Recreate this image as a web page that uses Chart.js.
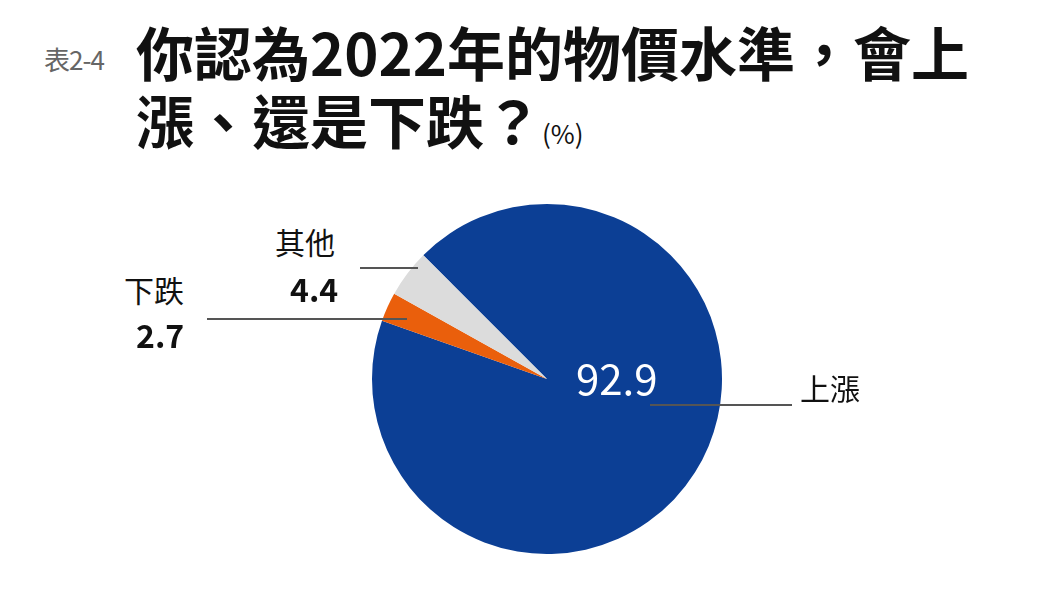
<!DOCTYPE html>
<html><head><meta charset="utf-8">
<script src="https://cdn.jsdelivr.net/npm/chart.js@4/dist/chart.umd.min.js"></script>
<style>
body{margin:0;width:1060px;height:596px;background:#fff;position:relative;overflow:hidden;font-family:"Noto Sans CJK TC","Noto Sans",sans-serif;}
.a{position:absolute;white-space:nowrap;line-height:1;}
.ln{position:absolute;height:1.5px;background:#555;}
#wrap{position:absolute;left:372px;top:204px;width:350px;height:350px;}
</style></head><body>
<div class="a" style="left:44px;top:46px;font-size:26px;color:#666;letter-spacing:-1px">表2-4</div>
<div class="a" style="left:136px;top:22px;font-size:58px;font-weight:bold;color:#111;letter-spacing:0px">你認為2022年的物價水準，會上</div>
<div class="a" style="left:136px;top:90px;font-size:58px;font-weight:bold;color:#111;letter-spacing:0px">漲、還是下跌？<span style="font-size:26px;font-weight:normal;">(%)</span></div>
<div id="wrap"><canvas id="c"></canvas></div>
<div id="labels"></div>
<script>
const categories=["上漲","下跌","其他"];
const values=[92.9,2.7,4.4];
const colors=["#0c3f95","#ea5f0c","#dcdcdc"];
new Chart(document.getElementById('c'),{type:'pie',
 data:{labels:categories,datasets:[{data:values,backgroundColor:colors,borderWidth:0}]},
 options:{responsive:true,maintainAspectRatio:false,animation:false,rotation:-45,
  layout:{padding:0},plugins:{legend:{display:false},tooltip:{enabled:false}}}});
const L=document.getElementById('labels');
function add(html){L.insertAdjacentHTML('beforeend',html);}
add(`<div class="a" style="left:576px;top:356px;font-size:42px;color:#fff">${values[0]}</div>`);
add(`<div class="ln" style="left:650px;top:404px;width:142px"></div>`);
add(`<div class="a" style="left:800px;top:372px;font-size:30px;color:#111">${categories[0]}</div>`);
add(`<div class="a" style="left:124px;top:274px;font-size:30px;color:#111">${categories[1]}</div>`);
add(`<div class="a" style="left:136px;top:318px;font-size:32px;font-weight:bold;color:#111">${values[1]}</div>`);
add(`<div class="ln" style="left:207px;top:318px;width:200px"></div>`);
add(`<div class="a" style="left:275px;top:226px;font-size:30px;color:#111">${categories[2]}</div>`);
add(`<div class="a" style="left:290px;top:272px;font-size:32px;font-weight:bold;color:#111">${values[2]}</div>`);
add(`<div class="ln" style="left:360px;top:267px;width:58px"></div>`);
</script></body></html>
